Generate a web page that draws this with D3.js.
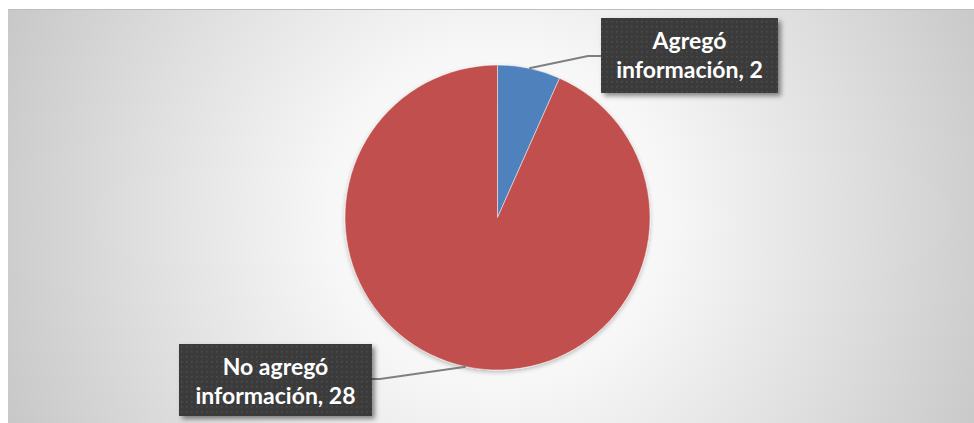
<!DOCTYPE html>
<html>
<head>
<meta charset="utf-8">
<script src="https://cdn.jsdelivr.net/npm/d3@7"></script>
<style>
  html, body { margin: 0; padding: 0; background: #ffffff; }
  svg { display: block; }
</style>
</head>
<body>
<svg id="chart"></svg>
<script>
// ───────────────── DATA ─────────────────
const categories = ["Agregó información", "No agregó información"];
const values = [2, 28];
const labelLines = [["Agregó", "información, 2"], ["No agregó", "información, 28"]];
const colors = ["#4f81bd", "#c0504d"];

// ───────────────── SIZE ─────────────────
const W = 974;
const H = 423;
const cx = 497.5, cy = 217.5, R = 152.5;

// label boxes (layout only)
const boxes = [
  { x: 601, y: 18, w: 177, h: 75, elbowX: 588, lineY: 56, side: "left" },
  { x: 179, y: 344, w: 193, h: 72, elbowX: 380, lineY: 379, side: "right" }
];

const svg = d3.select("#chart")
  .attr("width", W)
  .attr("height", H)
  .attr("viewBox", `0 0 ${W} ${H}`);

const defs = svg.append("defs");

// background gradient
const bg = defs.append("radialGradient")
  .attr("id", "bgGrad")
  .attr("gradientUnits", "userSpaceOnUse")
  .attr("cx", cx).attr("cy", cy).attr("r", 560);
bg.append("stop").attr("offset", 0).attr("stop-color", "#ffffff");
bg.append("stop").attr("offset", 0.3).attr("stop-color", "#f7f7f7");
bg.append("stop").attr("offset", 0.65).attr("stop-color", "#dedede");
bg.append("stop").attr("offset", 1).attr("stop-color", "#c4c4c4");

// dotted pattern for label boxes
const pat = defs.append("pattern")
  .attr("id", "dots")
  .attr("patternUnits", "userSpaceOnUse")
  .attr("width", 5).attr("height", 5);
pat.append("rect").attr("width", 5).attr("height", 5).attr("fill", "#3a3a3a");
pat.append("rect").attr("x", 1).attr("y", 1).attr("width", 1.5).attr("height", 1.5)
  .attr("fill", "#4e4e4e");

// shadows
const sh = defs.append("filter").attr("id", "boxShadow")
  .attr("x", "-10%").attr("y", "-10%").attr("width", "130%").attr("height", "140%");
sh.append("feDropShadow").attr("dx", 3).attr("dy", 3).attr("stdDeviation", 2.5)
  .attr("flood-color", "#000").attr("flood-opacity", 0.45);

const psh = defs.append("filter").attr("id", "pieShadow")
  .attr("x", "-10%").attr("y", "-10%").attr("width", "120%").attr("height", "125%");
psh.append("feDropShadow").attr("dx", 0).attr("dy", 2).attr("stdDeviation", 2)
  .attr("flood-color", "#000").attr("flood-opacity", 0.25);

// ───────────────── BACKGROUND ─────────────────
svg.append("rect")
  .attr("x", 8).attr("y", 9)
  .attr("width", W - 8).attr("height", H - 9)
  .attr("fill", "url(#bgGrad)");

svg.append("line")
  .attr("x1", 8).attr("x2", W).attr("y1", 9.5).attr("y2", 9.5)
  .attr("stroke", "#bdbdbd");

// ───────────────── PIE ─────────────────
const data = categories.map((c, i) => ({ name: c, value: values[i], color: colors[i], lines: labelLines[i] }));

const pie = d3.pie().value(d => d.value).sort(null);
const arcs = pie(data);
const arc = d3.arc().innerRadius(0).outerRadius(R);

const g = svg.append("g")
  .attr("transform", `translate(${cx},${cy})`)
  .attr("filter", "url(#pieShadow)");

g.selectAll("path")
  .data(arcs)
  .join("path")
  .attr("d", arc)
  .attr("fill", d => d.data.color)
  .attr("stroke", "rgba(255,255,255,0.6)")
  .attr("stroke-width", 0.8);

// ───────────────── LEADER LINES ─────────────────
arcs.forEach((a, i) => {
  const mid = (a.startAngle + a.endAngle) / 2;
  const px = cx + R * Math.sin(mid);
  const py = cy - R * Math.cos(mid);
  const b = boxes[i];
  const endX = b.side === "left" ? b.x : b.x + b.w;
  svg.append("polyline")
    .attr("points", `${px},${py} ${b.elbowX},${b.lineY} ${endX},${b.lineY}`)
    .attr("fill", "none")
    .attr("stroke", "#7f7f7f")
    .attr("stroke-width", 2);
});

// ───────────────── LABELS ─────────────────
arcs.forEach((a, i) => {
  const b = boxes[i];
  const lg = svg.append("g");
  lg.append("rect")
    .attr("x", b.x).attr("y", b.y)
    .attr("width", b.w).attr("height", b.h)
    .attr("fill", "url(#dots)")
    .attr("filter", "url(#boxShadow)");
  const t = lg.append("text")
    .attr("text-anchor", "middle")
    .attr("fill", "#ffffff")
    .style("font-family", "Lato, 'Open Sans', sans-serif")
    .style("font-weight", "700")
    .style("font-size", "23px");
  a.data.lines.forEach((ln, k) => {
    t.append("tspan")
      .attr("x", b.x + b.w / 2)
      .attr("y", b.y + 31 + k * 29)
      .text(ln);
  });
});
</script>
</body>
</html>
